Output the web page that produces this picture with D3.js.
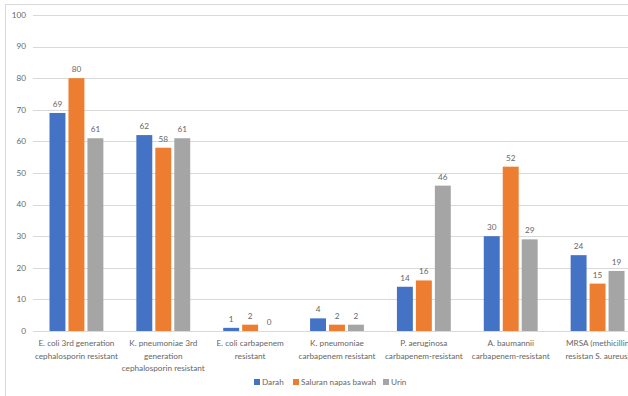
<!DOCTYPE html>
<html>
<head>
<meta charset="utf-8">
<script src="https://cdn.jsdelivr.net/npm/d3@7"></script>
<style>
  body { margin: 0; background: #fff; }
  svg { display: block; font-family: Lato, "Noto Sans", sans-serif; }
</style>
</head>
<body>
<svg id="chart" width="628" height="396"></svg>
<script>
const categories = [
    ["E. coli 3rd generation", "cephalosporin resistant"],
    ["K. pneumoniae 3rd", "generation", "cephalosporin resistant"],
    ["E. coli carbapenem", "resistant"],
    ["K. pneumoniae", "carbapenem resistant"],
    ["P. aeruginosa", "carbapenem-resistant"],
    ["A. baumannii", "carbapenem-resistant"],
    ["MRSA (methicillin", "resistan S. aureus)"]
];
const seriesNames = ["Darah", "Saluran napas bawah", "Urin"];
const darah = [69, 62, 1, 4, 14, 30, 24];
const saluran = [80, 58, 2, 2, 16, 52, 15];
const urin = [61, 61, 0, 2, 46, 29, 19];
const yTicks = [0, 10, 20, 30, 40, 50, 60, 70, 80, 90, 100];
const colors = ["#4472c4", "#ed7d31", "#a5a5a5"];

const seriesValues = [darah, saluran, urin];
const fs = "8.2px";
const textColor = "#666666";

var svg = d3.select("#chart"),
    margin = { top: 15, left: 33, bottom: 65 };

// chart frame
svg.append("rect")
    .attr("x", 5.5).attr("y", 4.5)
    .attr("width", 640).attr("height", 400)
    .attr("fill", "none")
    .attr("stroke", "#d9d9d9");

var x = d3.scaleBand()
    .domain(d3.range(categories.length))
    .range([margin.left, 641]);

var x1 = d3.scaleBand()
    .domain(d3.range(seriesNames.length))
    .range([0, x.bandwidth()])
    .paddingInner(0.16)
    .paddingOuter(0.87);

var y = d3.scaleLinear()
    .domain([0, 100])
    .range([331, margin.top]);

// gridlines
svg.append("g")
    .selectAll("line")
    .data(yTicks)
    .enter().append("line")
    .attr("x1", margin.left)
    .attr("x2", 628)
    .attr("y1", d => Math.round(y(d)) + 0.5)
    .attr("y2", d => Math.round(y(d)) + 0.5)
    .attr("stroke", "#d9d9d9");

// y labels
svg.append("g")
    .selectAll("text")
    .data(yTicks)
    .enter().append("text")
    .attr("x", 26)
    .attr("y", d => y(d))
    .attr("dy", "0.35em")
    .attr("text-anchor", "end")
    .attr("font-size", fs)
    .attr("fill", textColor)
    .text(d => d);

// bars
var groups = svg.append("g")
    .selectAll("g")
    .data(seriesValues)
    .enter().append("g")
    .attr("fill", (d, i) => colors[i]);

groups.selectAll("rect")
    .data((d, s) => d.map((v, c) => ({ v: v, c: c, s: s })))
    .enter().append("rect")
    .attr("x", d => x(d.c) + x1(d.s))
    .attr("width", x1.bandwidth())
    .attr("y", d => y(d.v))
    .attr("height", d => y(0) - y(d.v));

// value labels
groups.selectAll("text")
    .data((d, s) => d.map((v, c) => ({ v: v, c: c, s: s })))
    .enter().append("text")
    .attr("x", d => x(d.c) + x1(d.s) + x1.bandwidth() / 2)
    .attr("y", d => y(d.v) - 6)
    .attr("text-anchor", "middle")
    .attr("font-size", fs)
    .attr("fill", textColor)
    .text(d => d.v);

// category labels
var cat = svg.append("g")
    .selectAll("text")
    .data(categories)
    .enter().append("text")
    .attr("x", (d, i) => x(i) + x.bandwidth() / 2)
    .attr("y", 346)
    .attr("text-anchor", "middle")
    .attr("font-size", fs)
    .attr("fill", textColor);

cat.selectAll("tspan")
    .data(d => d)
    .enter().append("tspan")
    .attr("x", function () { return d3.select(this.parentNode).attr("x"); })
    .attr("dy", (d, i) => i === 0 ? 0 : 12.5)
    .text(d => d);

// legend
var legendX = [254, 293, 383];
var legend = svg.append("g")
    .selectAll("g")
    .data(seriesNames)
    .enter().append("g")
    .attr("transform", (d, i) => "translate(" + legendX[i] + ",379)");

legend.append("rect")
    .attr("width", 6)
    .attr("height", 6)
    .attr("fill", (d, i) => colors[i]);

legend.append("text")
    .attr("x", 8)
    .attr("y", 3)
    .attr("dy", "0.35em")
    .attr("font-size", fs)
    .attr("fill", textColor)
    .text(d => d);
</script>
</body>
</html>
